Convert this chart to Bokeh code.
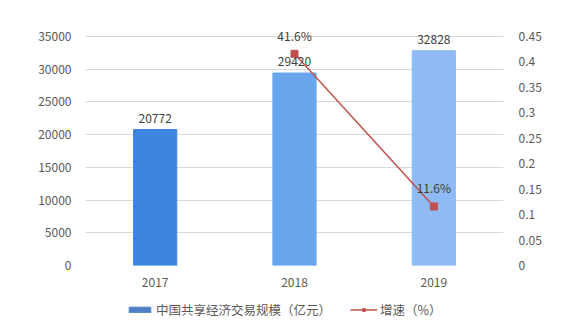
from bokeh.plotting import figure
from bokeh.layouts import column
from bokeh.models import (ColumnDataSource, Range1d, LinearAxis, FixedTicker,
                          CustomJSTickFormatter, Legend, LegendItem, LabelSet)
from bokeh.core.properties import value
from bokeh.embed import file_html
from bokeh.resources import INLINE

years = ["2017", "2018", "2019"]
scale = [20772, 29420, 32828]
scale_labels = ["20772", "29420", "32828"]
rate_years = ["2018", "2019"]
rate = [0.416, 0.116]
rate_labels = ["41.6%", "11.6%"]
bar_colors = ["#3d85e0", "#6aa6ee", "#8fbaf3"]
left_ticks = [0, 5000, 10000, 15000, 20000, 25000, 30000, 35000]
right_ticks = [0, 0.05, 0.1, 0.15, 0.2, 0.25, 0.3, 0.35, 0.4, 0.45]
series_names = ["中国共享经济交易规模（亿元）", "增速（%）"]

FONT = "Noto Sans CJK SC"
TXT = "#595959"
NAN = float("nan")

# headroom above the top gridline so labels near the top are not clipped
head = 1 + 16 / 229
p = figure(x_range=years, y_range=Range1d(0, 35000 * head), width=583, height=295,
           output_backend="svg", toolbar_location=None,
           min_border_left=85, min_border_right=80, min_border_top=20,
           min_border_bottom=30)
p.outline_line_color = None
p.extra_y_ranges = {"rate": Range1d(0, 0.45 * head)}

bars = ColumnDataSource(dict(x=years, top=scale, color=bar_colors, lab=scale_labels))
p.vbar(x="x", top="top", width=0.31, color="color", source=bars)

p.add_layout(LabelSet(x="x", y="top", text="lab", source=bars, y_offset=7,
                      text_align="center", text_font=value(FONT), text_font_size="12px",
                      text_color="#404040"))

rs = ColumnDataSource(dict(x=rate_years, y=rate, lab=rate_labels))
p.line(x="x", y="y", source=rs, y_range_name="rate", line_color="#c0504d",
       line_width=1.5)
p.scatter(x="x", y="y", source=rs, y_range_name="rate", marker="square",
          size=7, color="#c0504d")
p.add_layout(LabelSet(x="x", y="y", text="lab", source=rs, y_range_name="rate",
                      y_offset=10, text_align="center", text_font=value(FONT),
                      text_font_size="12px", text_color="#404040"))

p.xgrid.grid_line_color = None
p.ygrid.grid_line_color = "#d9d9d9"
p.ygrid.ticker = FixedTicker(ticks=left_ticks)

for ax in [p.yaxis[0], p.xaxis[0]]:
    ax.axis_line_color = None
    ax.major_tick_line_color = None
    ax.minor_tick_line_color = None
    ax.major_label_text_font = FONT
    ax.major_label_text_font_size = "12px"
    ax.major_label_text_color = TXT
p.yaxis[0].ticker = FixedTicker(ticks=left_ticks)
p.yaxis[0].major_label_standoff = 8
p.xaxis[0].major_label_standoff = 6

ra = LinearAxis(y_range_name="rate", ticker=FixedTicker(ticks=right_ticks),
                formatter=CustomJSTickFormatter(code="return String(Math.round(tick*100)/100);"))
ra.axis_line_color = None
ra.major_tick_line_color = None
ra.minor_tick_line_color = None
ra.major_label_text_font = FONT
ra.major_label_text_font_size = "12px"
ra.major_label_text_color = TXT
ra.major_label_standoff = 9
p.add_layout(ra, "right")

# legend strip (frame aligned with the main plot's frame by the column layout)
q = figure(width=583, height=29, x_range=Range1d(0, 1), y_range=Range1d(0, 1),
           output_backend="svg", toolbar_location=None,
           min_border_left=85, min_border_right=80,
           min_border_top=0, min_border_bottom=0)
q.outline_line_color = None
q.axis.visible = False
q.grid.visible = False
# legend proxies with no drawable data
lb = q.vbar(x=[NAN], top=[NAN], width=0.3, color="#4f81c4")
ll = q.line(x=[NAN, NAN], y=[NAN, NAN], line_color="#c0504d", line_width=1.5)
lm = q.scatter(x=[NAN], y=[NAN], marker="square", size=6, color="#c0504d")

legend = Legend(items=[LegendItem(label=series_names[0], renderers=[lb]),
                       LegendItem(label=series_names[1], renderers=[ll, lm])],
                orientation="horizontal", location=(41, 5))
legend.border_line_color = None
legend.background_fill_alpha = 0
legend.label_text_font = FONT
legend.label_text_font_size = "12.5px"
legend.label_text_color = TXT
legend.glyph_width = 27
legend.glyph_height = 7
legend.label_standoff = 3
legend.spacing = 19
legend.padding = 2
legend.margin = 0
q.add_layout(legend, "center")

layout = column(p, q, spacing=0)
open("out.html", "w").write(file_html(layout, INLINE))
